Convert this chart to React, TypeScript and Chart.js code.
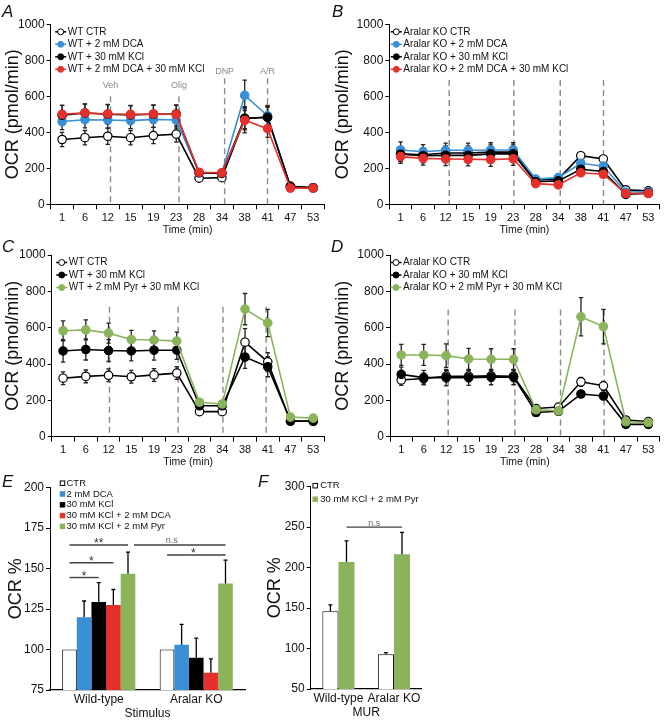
import React, { useEffect, useRef } from "react";
import { Chart, registerables } from "chart.js";
Chart.register(...registerables);

const FONT = "'Liberation Sans', Arial, Helvetica, sans-serif";
const BLUE = "#3A8FD5";
const RED = "#E5302B";
const GREEN = "#8BB35C";
const INK = "#111";

// ---------------- data ----------------
const timeLabels = ["1", "6", "12", "15", "19", "23", "28", "34", "38", "41", "47", "53"];

// Panel A (WT)
const aCtr = [360, 370, 378, 370, 382, 390, 145, 148, 475, 485, 100, 92];
const aCtrErr = [40, 40, 45, 40, 45, 45, 10, 10, 55, 55, 10, 8];
const aDca = [460, 470, 468, 465, 472, 468, 175, 175, 605, 492, 95, 92];
const aDcaErr = [45, 45, 45, 45, 45, 45, 15, 12, 85, 58, 10, 8];
const aKcl = [495, 507, 500, 497, 500, 502, 175, 172, 478, 483, 100, 92];
const aKclErr = [55, 50, 55, 50, 50, 50, 15, 12, 65, 60, 10, 8];
const aDcaKcl = [500, 508, 502, 500, 502, 500, 178, 175, 467, 420, 90, 90];
const aDcaKclErr = [50, 50, 50, 50, 50, 50, 15, 12, 70, 48, 10, 8];

// Panel B (Aralar KO)
const bCtr = [280, 275, 285, 285, 290, 290, 135, 140, 270, 252, 80, 75];
const bCtrErr = [40, 40, 40, 40, 40, 40, 10, 10, 15, 15, 8, 8];
const bDca = [302, 292, 300, 300, 302, 302, 140, 148, 228, 212, 68, 70];
const bDcaErr = [45, 40, 40, 40, 40, 40, 10, 10, 15, 15, 8, 8];
const bKcl = [278, 270, 272, 272, 280, 280, 125, 130, 195, 182, 55, 62];
const bKclErr = [40, 40, 40, 40, 40, 40, 10, 10, 15, 15, 8, 8];
const bDcaKcl = [265, 255, 252, 250, 248, 253, 115, 108, 175, 167, 60, 60];
const bDcaKclErr = [37, 37, 37, 37, 37, 37, 10, 10, 15, 15, 8, 8];

// Panel C (WT, pyruvate)
const cCtr = [322, 332, 338, 330, 340, 350, 138, 138, 520, 412, 85, 85];
const cCtrErr = [35, 35, 35, 35, 35, 35, 10, 10, 75, 50, 8, 8];
const cKcl = [472, 480, 474, 472, 476, 476, 170, 170, 438, 385, 88, 86];
const cKclErr = [62, 58, 60, 55, 55, 50, 15, 12, 62, 55, 10, 8];
const cPyr = [583, 588, 570, 535, 532, 526, 190, 180, 702, 626, 108, 102];
const cPyrErr = [55, 55, 55, 50, 50, 50, 15, 12, 86, 75, 12, 8];

// Panel D (Aralar KO, pyruvate)
const dCtr = [312, 320, 333, 333, 335, 333, 155, 163, 302, 280, 92, 83];
const dCtrErr = [30, 30, 30, 30, 30, 30, 10, 10, 25, 25, 8, 8];
const dKcl = [343, 325, 325, 325, 328, 328, 133, 140, 235, 224, 68, 68];
const dKclErr = [40, 40, 45, 42, 42, 42, 12, 10, 15, 15, 8, 6];
const dPyr = [450, 450, 446, 428, 426, 426, 148, 142, 660, 606, 82, 78];
const dPyrErr = [58, 58, 65, 58, 58, 58, 15, 12, 105, 95, 10, 8];

// Panel E (OCR % by stimulus)
const eCategories = ["Wild-type", "Aralar KO"];
const eCtr = [100, 100];
const eCtrErr = [0, 0];
const eDca = [120, 103];
const eDcaErr = [10, 12.5];
const eKcl = [129.4, 95];
const eKclErr = [12, 12];
const eKclDca = [127.5, 85.7];
const eKclDcaErr = [9.6, 8.5];
const eKclPyr = [146.8, 140.8];
const eKclPyrErr = [13.4, 14.5];

// Panel F (MUR)
const fCategories = ["Wild-type", "Aralar KO"];
const fCtr = [146, 93];
const fCtrErr = [8, 2];
const fKclPyr = [207, 216.5];
const fKclPyrErr = [26, 27];

// injection markers (category index positions) and tops (OCR value)
const injLabelsA = ["Veh", "Olig", "DNP", "A/R"];
const injPosA = [2.12, 5.12, 7.12, 9.0];
const injTopA = [600, 600, 700, 700];
const injPosB = [2.16, 5.03, 7.09, 9.01];
const injTopB = [690, 690, 690, 690];
const injPosC = [2.04, 5.06, 7.03, 8.93];
const injTopC = [715, 715, 715, 715];
const injPosD = [2.09, 5.06, 7.09, 9.03];
const injTopD = [700, 700, 700, 700];

// ---------------- plugins ----------------
type EbOpts = { after: boolean; upperOnly: boolean; cap: number; color: string; width: number };
function errorBarsPlugin(errs: number[][], o: EbOpts) {
  const draw = (chart: any) => {
    const ctx = chart.ctx;
    const ys = chart.scales.y;
    ctx.save();
    ctx.strokeStyle = o.color;
    ctx.lineWidth = o.width;
    ctx.setLineDash([]);
    chart.data.datasets.forEach((ds: any, i: number) => {
      const e = errs[i];
      if (!e) return;
      const meta = chart.getDatasetMeta(i);
      meta.data.forEach((el: any, j: number) => {
        const v = ds.data[j];
        const d = e[j];
        if (!d) return;
        const x = el.x;
        const top = ys.getPixelForValue(v + d);
        const bot = o.upperOnly ? ys.getPixelForValue(v) : ys.getPixelForValue(v - d);
        ctx.beginPath();
        ctx.moveTo(x, top);
        ctx.lineTo(x, bot);
        ctx.moveTo(x - o.cap, top);
        ctx.lineTo(x + o.cap, top);
        if (!o.upperOnly) {
          ctx.moveTo(x - o.cap, bot);
          ctx.lineTo(x + o.cap, bot);
        }
        ctx.stroke();
      });
    });
    ctx.restore();
  };
  return {
    id: "errorBars",
    beforeDatasetsDraw(chart: any) {
      if (!o.after) draw(chart);
    },
    afterDatasetsDraw(chart: any) {
      if (o.after) draw(chart);
    },
  };
}

type VItem = { pos: number; top: number; label?: string; dy: number };
function vlinesPlugin(items: VItem[]) {
  return {
    id: "vlines",
    beforeDatasetsDraw(chart: any) {
      const { ctx, chartArea, scales } = chart;
      ctx.save();
      items.forEach((it) => {
        const px = scales.x.getPixelForValue(it.pos);
        const pt = scales.y.getPixelForValue(it.top);
        ctx.strokeStyle = "#8a8a8a";
        ctx.lineWidth = 1.4;
        ctx.setLineDash([6, 4]);
        ctx.beginPath();
        ctx.moveTo(px, pt);
        ctx.lineTo(px, chartArea.bottom);
        ctx.stroke();
        if (it.label) {
          ctx.setLineDash([]);
          ctx.fillStyle = "#8a8a8a";
          ctx.font = `9px ${FONT}`;
          ctx.textAlign = "center";
          ctx.textBaseline = "middle";
          ctx.fillText(it.label, px, pt + it.dy);
        }
      });
      ctx.restore();
    },
  };
}

type LegOpts = { kind: "line" | "box"; mx: number; tx: number; y0: number; dy: number; size: number; box?: number };
function legendPlugin(o: LegOpts) {
  return {
    id: "miniLegend",
    afterDraw(chart: any) {
      const { ctx, chartArea } = chart;
      ctx.save();
      ctx.font = `${o.size}px ${FONT}`;
      ctx.textBaseline = "middle";
      ctx.textAlign = "left";
      chart.data.datasets.forEach((ds: any, i: number) => {
        const y = chartArea.top + o.y0 + i * o.dy;
        const mx = chartArea.left + o.mx;
        if (o.kind === "line") {
          ctx.strokeStyle = ds.borderColor;
          ctx.lineWidth = 1.5;
          ctx.beginPath();
          ctx.moveTo(mx - 5.5, y);
          ctx.lineTo(mx + 5.5, y);
          ctx.stroke();
          ctx.beginPath();
          ctx.arc(mx, y, 3, 0, Math.PI * 2);
          ctx.fillStyle = ds.pointBackgroundColor;
          ctx.fill();
          ctx.lineWidth = 1;
          ctx.strokeStyle = ds.pointBorderColor;
          ctx.stroke();
        } else {
          const b = o.box || 5;
          ctx.fillStyle = ds.backgroundColor;
          ctx.fillRect(mx - b / 2, y - b / 2, b, b);
          if (ds.borderWidth) {
            ctx.strokeStyle = ds.borderColor;
            ctx.lineWidth = 1;
            ctx.strokeRect(mx - b / 2 + 0.5, y - b / 2 + 0.5, b - 1, b - 1);
          }
        }
        ctx.fillStyle = INK;
        ctx.fillText(ds.label, chartArea.left + o.tx, y);
      });
      ctx.restore();
    },
  };
}

type Bracket = { a: [number, number]; b: [number, number]; v: number; label: string; aOff?: number; ldx?: number; ns?: boolean };
function bracketsPlugin(items: Bracket[]) {
  return {
    id: "sigBrackets",
    afterDatasetsDraw(chart: any) {
      const ctx = chart.ctx;
      ctx.save();
      items.forEach((it) => {
        const xa = chart.getDatasetMeta(it.a[0]).data[it.a[1]].x + (it.aOff || 0);
        const xb = chart.getDatasetMeta(it.b[0]).data[it.b[1]].x;
        const y = chart.scales.y.getPixelForValue(it.v);
        ctx.strokeStyle = "#404040";
        ctx.lineWidth = 1.4;
        ctx.beginPath();
        ctx.moveTo(xa, y);
        ctx.lineTo(xb, y);
        ctx.stroke();
        ctx.textAlign = "center";
        ctx.textBaseline = "alphabetic";
        const cx = (xa + xb) / 2 + (it.ldx || 0);
        if (it.ns) {
          ctx.font = `9px ${FONT}`;
          ctx.fillStyle = "#666";
          ctx.fillText(it.label, cx, y - 1.5);
        } else {
          ctx.font = `12px ${FONT}`;
          ctx.fillStyle = "#333";
          ctx.fillText(it.label, cx, y + 2);
        }
      });
      ctx.restore();
    },
  };
}

// ---------------- layout helpers ----------------
type Rect = { x: number; y: number; w: number; h: number };
type Area = { l: number; t: number; r: number; b: number };

function frame(rect: Rect, area: Area, padLeft: number, xH: number) {
  return {
    padding: {
      left: padLeft,
      top: area.t - rect.y,
      right: rect.x + rect.w - area.r,
      bottom: rect.y + rect.h - area.b - xH,
    },
    yW: area.l - rect.x - padLeft,
  };
}

const plainTick = (v: any) => String(v);

type Series = { label: string; data: number[]; err: number[]; line: string; fill: string; edge: string };

function makeLineChart(series: Series[], rect: Rect, area: Area, vitems: VItem[], leg: LegOpts) {
  const xH = 33;
  const { padding, yW } = frame(rect, area, 0, xH);
  return {
    type: "line",
    data: {
      labels: timeLabels,
      datasets: series.map((s, i) => ({
        label: s.label,
        data: s.data,
        borderColor: s.line,
        backgroundColor: s.fill,
        pointBackgroundColor: s.fill,
        pointBorderColor: s.edge,
        pointRadius: 4.2,
        pointBorderWidth: 1.2,
        borderWidth: 1.6,
        tension: 0,
        fill: false,
        order: series.length - i,
      })),
    },
    options: {
      responsive: false,
      animation: false,
      devicePixelRatio: 1,
      layout: { padding },
      plugins: { legend: { display: false }, tooltip: { enabled: false } },
      scales: {
        x: {
          type: "category",
          offset: true,
          grid: { offset: true, drawOnChartArea: false, drawTicks: true, tickLength: 5, color: "#000", lineWidth: 1 },
          border: { display: true, color: "#000", width: 1 },
          ticks: { color: INK, font: { family: FONT, size: 11 }, padding: 2, maxRotation: 0, minRotation: 0, autoSkip: false },
          title: { display: true, text: "Time (min)", color: INK, font: { family: FONT, size: 10.5 }, padding: { top: 0, bottom: 1 } },
          afterFit: (s: any) => {
            s.height = xH;
            s.paddingLeft = 0;
            s.paddingRight = 0;
          },
        },
        y: {
          min: 0,
          max: 1000,
          grid: { drawOnChartArea: false, drawTicks: true, tickLength: 4, color: "#000", lineWidth: 1 },
          border: { display: true, color: "#000", width: 1 },
          ticks: { stepSize: 200, color: INK, font: { family: FONT, size: 12 }, padding: 2, callback: plainTick },
          title: { display: true, text: "OCR (pmol/min)", color: INK, font: { family: FONT, size: 18 }, padding: { top: 2, bottom: 0 } },
          afterFit: (s: any) => {
            s.width = yW;
            s.paddingTop = 0;
            s.paddingBottom = 0;
          },
        },
      },
    },
    plugins: [
      vlinesPlugin(vitems),
      errorBarsPlugin(series.map((s) => s.err), { after: false, upperOnly: false, cap: 2.2, color: "#222", width: 1.3 }),
      legendPlugin(leg),
    ],
  };
}

type BarSeries = { label: string; data: number[]; err: number[]; fill: string; border: number };

function makeBarChart(
  cats: string[],
  series: BarSeries[],
  rect: Rect,
  area: Area,
  padLeft: number,
  yMin: number,
  yMax: number,
  step: number,
  catPct: number,
  xTitle: string,
  brackets: Bracket[],
  leg: LegOpts
) {
  const xH = 31;
  const { padding, yW } = frame(rect, area, padLeft, xH);
  return {
    type: "bar",
    data: {
      labels: cats,
      datasets: series.map((s) => ({
        label: s.label,
        data: s.data,
        backgroundColor: s.fill,
        borderColor: "#000",
        borderWidth: s.border,
        categoryPercentage: catPct,
        barPercentage: 1,
      })),
    },
    options: {
      responsive: false,
      animation: false,
      devicePixelRatio: 1,
      layout: { padding },
      plugins: { legend: { display: false }, tooltip: { enabled: false } },
      scales: {
        x: {
          grid: { drawOnChartArea: false, drawTicks: false, color: "#000" },
          border: { display: true, color: "#000", width: 1.2 },
          ticks: { color: INK, font: { family: FONT, size: 12 }, padding: 2, maxRotation: 0, minRotation: 0, autoSkip: false },
          title: { display: true, text: xTitle, color: INK, font: { family: FONT, size: 12 }, padding: { top: 0, bottom: 0 } },
          afterFit: (s: any) => {
            s.height = xH;
            s.paddingLeft = 0;
            s.paddingRight = 0;
          },
        },
        y: {
          min: yMin,
          max: yMax,
          grid: { drawOnChartArea: false, drawTicks: true, tickLength: 4, color: "#000", lineWidth: 1 },
          border: { display: true, color: "#000", width: 1 },
          ticks: { stepSize: step, color: INK, font: { family: FONT, size: 12 }, padding: 2, callback: plainTick },
          title: { display: true, text: "OCR %", color: INK, font: { family: FONT, size: 18 }, padding: { top: 2, bottom: 0 } },
          afterFit: (s: any) => {
            s.width = yW;
            s.paddingTop = 0;
            s.paddingBottom = 0;
          },
        },
      },
    },
    plugins: [
      errorBarsPlugin(series.map((s) => s.err), { after: true, upperOnly: true, cap: 2, color: "#000", width: 1.3 }),
      bracketsPlugin(brackets),
      legendPlugin(leg),
    ],
  };
}

// ---------------- panel definitions ----------------
const RECT_A: Rect = { x: 0, y: 0, w: 330, h: 240 };
const AREA_A: Area = { l: 50.7, t: 24.3, r: 326.7, b: 204.3 };
const RECT_B: Rect = { x: 330, y: 0, w: 335, h: 240 };
const AREA_B: Area = { l: 389.3, t: 24.3, r: 661.3, b: 204.3 };
const RECT_C: Rect = { x: 0, y: 240, w: 330, h: 230 };
const AREA_C: Area = { l: 51.7, t: 255, r: 327.7, b: 436.7 };
const RECT_D: Rect = { x: 330, y: 240, w: 335, h: 230 };
const AREA_D: Area = { l: 390, t: 255, r: 663.9, b: 436.7 };
const RECT_E: Rect = { x: 0, y: 470, w: 258, h: 254 };
const AREA_E: Area = { l: 50, t: 487.7, r: 245, b: 690 };
const RECT_F: Rect = { x: 262, y: 470, w: 170, h: 254 };
const AREA_F: Area = { l: 310.7, t: 486.7, r: 421.7, b: 689 };

const ctrStyle = { line: "#000", fill: "#fff", edge: "#000" };
const blueStyle = { line: BLUE, fill: BLUE, edge: BLUE };
const blackStyle = { line: "#000", fill: "#000", edge: "#000" };
const redStyle = { line: RED, fill: RED, edge: RED };
const greenStyle = { line: GREEN, fill: GREEN, edge: GREEN };

const lineLeg = (mx: number, tx: number): LegOpts => ({ kind: "line", mx, tx, y0: 7.5, dy: 12.5, size: 10 });

const makeA = () =>
  makeLineChart(
    [
      { label: "WT CTR", data: aCtr, err: aCtrErr, ...ctrStyle },
      { label: "WT + 2 mM DCA", data: aDca, err: aDcaErr, ...blueStyle },
      { label: "WT + 30 mM KCl", data: aKcl, err: aKclErr, ...blackStyle },
      { label: "WT + 2 mM DCA + 30 mM KCl", data: aDcaKcl, err: aDcaKclErr, ...redStyle },
    ],
    RECT_A,
    AREA_A,
    injPosA.map((p, i) => ({ pos: p, top: injTopA[i], label: injLabelsA[i], dy: i < 2 ? -11 : -7 })),
    lineLeg(10, 17)
  );

const makeB = () =>
  makeLineChart(
    [
      { label: "Aralar KO CTR", data: bCtr, err: bCtrErr, ...ctrStyle },
      { label: "Aralar KO + 2 mM DCA", data: bDca, err: bDcaErr, ...blueStyle },
      { label: "Aralar KO + 30 mM KCl", data: bKcl, err: bKclErr, ...blackStyle },
      { label: "Aralar KO + 2 mM DCA + 30 mM KCl", data: bDcaKcl, err: bDcaKclErr, ...redStyle },
    ],
    RECT_B,
    AREA_B,
    injPosB.map((p, i) => ({ pos: p, top: injTopB[i], dy: 0 })),
    lineLeg(7, 14)
  );

const makeC = () =>
  makeLineChart(
    [
      { label: "WT CTR", data: cCtr, err: cCtrErr, ...ctrStyle },
      { label: "WT + 30 mM KCl", data: cKcl, err: cKclErr, ...blackStyle },
      { label: "WT + 2 mM Pyr + 30 mM KCl", data: cPyr, err: cPyrErr, ...greenStyle },
    ],
    RECT_C,
    AREA_C,
    injPosC.map((p, i) => ({ pos: p, top: injTopC[i], dy: 0 })),
    lineLeg(10, 17)
  );

const makeD = () =>
  makeLineChart(
    [
      { label: "Aralar KO CTR", data: dCtr, err: dCtrErr, ...ctrStyle },
      { label: "Aralar KO + 30 mM KCl", data: dKcl, err: dKclErr, ...blackStyle },
      { label: "Aralar KO + 2 mM Pyr + 30 mM KCl", data: dPyr, err: dPyrErr, ...greenStyle },
    ],
    RECT_D,
    AREA_D,
    injPosD.map((p, i) => ({ pos: p, top: injTopD[i], dy: 0 })),
    lineLeg(6, 13)
  );

const makeE = () =>
  makeBarChart(
    eCategories,
    [
      { label: "CTR", data: eCtr, err: eCtrErr, fill: "#fff", border: 1 },
      { label: "2 mM DCA", data: eDca, err: eDcaErr, fill: BLUE, border: 0 },
      { label: "30 mM KCl", data: eKcl, err: eKclErr, fill: "#000", border: 0 },
      { label: "30 mM KCl + 2 mM DCA", data: eKclDca, err: eKclDcaErr, fill: RED, border: 0 },
      { label: "30 mM KCl + 2 mM Pyr", data: eKclPyr, err: eKclPyrErr, fill: GREEN, border: 0 },
    ],
    RECT_E,
    AREA_E,
    3,
    75,
    200,
    25,
    0.75,
    "Stimulus",
    [
      { a: [0, 0], b: [4, 0], v: 164.6, label: "**" },
      { a: [0, 0], b: [3, 0], v: 153.6, label: "*" },
      { a: [0, 0], b: [2, 0], v: 144.5, label: "*" },
      { a: [4, 0], b: [4, 1], v: 164.6, label: "n.s", aOff: 6, ldx: -8, ns: true },
      { a: [0, 1], b: [4, 1], v: 158.4, label: "*", ldx: -3 },
    ],
    { kind: "box", mx: 12.5, tx: 16.5, y0: -4.5, dy: 10.8, size: 9.5, box: 5.5 }
  );

const makeF = () =>
  makeBarChart(
    fCategories,
    [
      { label: "CTR", data: fCtr, err: fCtrErr, fill: "#fff", border: 1 },
      { label: "30 mM KCl + 2 mM Pyr", data: fKclPyr, err: fKclPyrErr, fill: GREEN, border: 0 },
    ],
    RECT_F,
    AREA_F,
    0,
    50,
    300,
    50,
    0.58,
    "MUR",
    [{ a: [1, 0], b: [1, 1], v: 250, label: "n.s", ns: true }],
    { kind: "box", mx: 4.5, tx: 9.5, y0: -1, dy: 13.5, size: 9.5, box: 5.5 }
  );

// ---------------- components ----------------
function ChartCanvas({ rect, make }: { rect: Rect; make: () => any }) {
  const ref = useRef<HTMLCanvasElement | null>(null);
  useEffect(() => {
    const chart = new Chart(ref.current as HTMLCanvasElement, make());
    return () => chart.destroy();
  }, []);
  return (
    <canvas
      ref={ref}
      width={rect.w}
      height={rect.h}
      style={{ position: "absolute", left: rect.x, top: rect.y, width: rect.w, height: rect.h }}
    />
  );
}

const panelLetters = [
  { t: "A", x: 2, y: 3 },
  { t: "B", x: 332, y: 3 },
  { t: "C", x: 2, y: 238 },
  { t: "D", x: 331, y: 238 },
  { t: "E", x: 2, y: 473 },
  { t: "F", x: 258, y: 473 },
];

export default function App() {
  return (
    <div style={{ position: "absolute", left: 0, top: 0, width: 665, height: 724, background: "#fff", overflow: "hidden" }}>
      <ChartCanvas rect={RECT_A} make={makeA} />
      <ChartCanvas rect={RECT_B} make={makeB} />
      <ChartCanvas rect={RECT_C} make={makeC} />
      <ChartCanvas rect={RECT_D} make={makeD} />
      <ChartCanvas rect={RECT_E} make={makeE} />
      <ChartCanvas rect={RECT_F} make={makeF} />
      {panelLetters.map((l) => (
        <div
          key={l.t}
          style={{
            position: "absolute",
            left: l.x,
            top: l.y,
            fontFamily: FONT,
            fontStyle: "italic",
            fontSize: 17,
            lineHeight: "17px",
            color: INK,
          }}
        >
          {l.t}
        </div>
      ))}
    </div>
  );
}
